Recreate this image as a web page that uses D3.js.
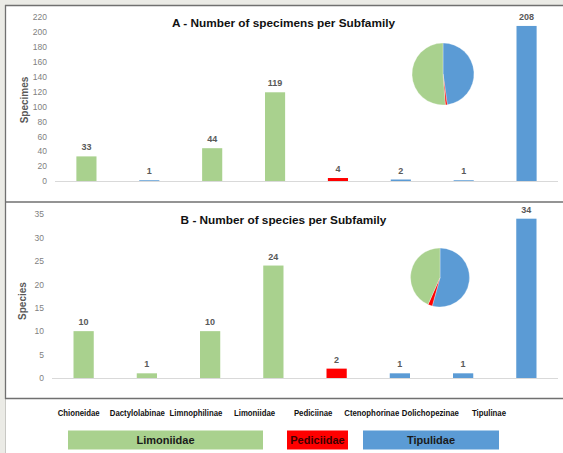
<!DOCTYPE html>
<html>
<head>
<meta charset="utf-8">
<script src="https://cdn.jsdelivr.net/npm/d3@7"></script>
<style>
  body { margin: 0; background: #fff; }
  svg { display: block; font-family: "Liberation Sans", Arial, sans-serif; }
</style>
</head>
<body>
<svg id="chart" width="563" height="453"></svg>
<script>
// 数据
const subfamilies = ["Chioneidae", "Dactylolabinae", "Limnophilinae", "Limoniidae",
  "Pediciinae", "Ctenophorinae", "Dolichopezinae", "Tipulinae"];
const specimens = [33, 1, 44, 119, 4, 2, 1, 208];
const species = [10, 1, 10, 24, 2, 1, 1, 34];
const barFamilyA = ["Limoniidae", "Tipulidae", "Limoniidae", "Limoniidae",
  "Pediciidae", "Tipulidae", "Tipulidae", "Tipulidae"];
const barFamilyB = ["Limoniidae", "Limoniidae", "Limoniidae", "Limoniidae",
  "Pediciidae", "Tipulidae", "Tipulidae", "Tipulidae"];
const families = ["Limoniidae", "Pediciidae", "Tipulidae"];
const familyColors = ["#a9d18e", "#ff0000", "#5b9bd5"];
const ticksA = [0, 20, 40, 60, 80, 100, 120, 140, 160, 180, 200, 220];
const ticksB = [0, 5, 10, 15, 20, 25, 30, 35];
// 饼图（按图中顺序：蓝、红、绿）
const pieSpecimens = [197, 4, 211];
const pieSpecies = [45, 2, 36];
const pieColors = ["#5b9bd5", "#ff0000", "#a9d18e"];

const svg = d3.select("#chart");
const color = d3.scaleOrdinal().domain(families).range(familyColors);

// 外框
svg.append("rect").attr("x", 0).attr("y", 0).attr("width", 563).attr("height", 453).attr("fill", "#fff");
svg.append("rect").attr("x", 0).attr("y", 0).attr("width", 563).attr("height", 5).attr("fill", "#ebebe6");
svg.append("rect").attr("x", 0).attr("y", 0).attr("width", 5).attr("height", 453).attr("fill", "#ebebe6");
svg.append("line").attr("x1", 5.5).attr("x2", 5.5).attr("y1", 399).attr("y2", 453)
  .attr("stroke", "#c8c8c4").attr("stroke-width", 1);
[5.5, 202, 398.5].forEach(y => {
  svg.append("line").attr("x1", 5).attr("x2", 563).attr("y1", y).attr("y2", y)
    .attr("stroke", "#707070").attr("stroke-width", 1.3);
});
svg.append("line").attr("x1", 5.5).attr("x2", 5.5).attr("y1", 5).attr("y2", 399)
  .attr("stroke", "#707070").attr("stroke-width", 1.3);

const panels = [
  { values: specimens, fam: barFamilyA, ticks: ticksA, max: 220, x0: 55, yTop: 17, yBase: 181,
    tickX: 47, label: "Specimes", labelX: 24, labelY: 100,
    title: "A - Number of specimens per Subfamily", titleY: 27,
    pie: pieSpecimens, pieX: 443, pieY: 74, pieR: 31 },
  { values: species, fam: barFamilyB, ticks: ticksB, max: 35, x0: 52, yTop: 214, yBase: 378,
    tickX: 44, label: "Species", labelX: 22, labelY: 301,
    title: "B - Number of species per Subfamily", titleY: 224,
    pie: pieSpecies, pieX: 440, pieY: 277.5, pieR: 29.5 }
];

panels.forEach(p => {
  const x = d3.scaleBand().domain(subfamilies).range([p.x0, 558]).paddingInner(0.68).paddingOuter(0.34);
  const y = d3.scaleLinear().domain([0, p.max]).range([p.yBase, p.yTop]);
  const g = svg.append("g");

  // Y 轴
  const yAxis = g.append("g")
    .attr("transform", `translate(${p.tickX + 3},0)`)
    .call(d3.axisLeft(y).tickValues(p.ticks).tickSize(0).tickPadding(3));
  yAxis.select(".domain").remove();
  yAxis.selectAll("text")
    .attr("fill", "#7f7f7f")
    .style("font-size", "8.5px")
    .style("font-family", "'Liberation Sans', Arial, sans-serif");

  // 基线
  g.append("line")
    .attr("x1", p.x0).attr("x2", 558)
    .attr("y1", y(0) + 0.5).attr("y2", y(0) + 0.5)
    .attr("stroke", "#d9d9d9");

  // 柱子
  g.selectAll("rect.bar")
    .data(p.values)
    .enter()
    .append("rect")
    .attr("class", "bar")
    .attr("x", (d, i) => x(subfamilies[i]))
    .attr("width", x.bandwidth())
    .attr("y", d => y(d))
    .attr("height", d => y(0) - y(d))
    .attr("fill", (d, i) => color(p.fam[i]));

  // 数值标签
  g.selectAll("text.val")
    .data(p.values)
    .enter()
    .append("text")
    .attr("class", "val")
    .attr("x", (d, i) => x(subfamilies[i]) + x.bandwidth() / 2)
    .attr("y", d => y(d) - 6)
    .attr("text-anchor", "middle")
    .attr("fill", "#595959")
    .style("font-size", "9px")
    .style("font-weight", "bold")
    .text(d => d);

  // Y 轴标题
  g.append("text")
    .attr("transform", `translate(${p.labelX},${p.labelY}) rotate(-90)`)
    .attr("text-anchor", "middle")
    .attr("dy", "0.35em")
    .attr("fill", "#595959")
    .style("font-size", "10px")
    .style("font-weight", "bold")
    .text(p.label);

  // 标题
  g.append("text")
    .attr("x", 283.5).attr("y", p.titleY)
    .attr("text-anchor", "middle")
    .attr("fill", "#111")
    .style("font-size", "11.8px")
    .style("font-weight", "bold")
    .text(p.title);

  // 饼图
  const pie = d3.pie().sort(null);
  const arc = d3.arc().innerRadius(0).outerRadius(p.pieR);
  g.append("g")
    .attr("transform", `translate(${p.pieX},${p.pieY})`)
    .selectAll("path")
    .data(pie(p.pie))
    .enter()
    .append("path")
    .attr("d", arc)
    .attr("fill", (d, i) => pieColors[i])
    .attr("stroke", "#fff")
    .attr("stroke-width", 0.3);
});

// 底部类别标签（窄体：横向压缩）
const xc = d3.scaleBand().domain(subfamilies).range([49.4, 518.3]);
svg.selectAll("text.cat")
  .data(subfamilies)
  .enter()
  .append("text")
  .attr("class", "cat")
  .attr("transform", d => `translate(${xc(d) + xc.bandwidth() / 2},415.5) scale(0.83,1)`)
  .attr("text-anchor", "middle")
  .attr("fill", "#111")
  .style("font-family", "'Liberation Sans', Arial, sans-serif")
  .style("font-size", "9.4px")
  .style("font-weight", "bold")
  .text(d => d);

// 图例
const legendBoxes = [[68, 263], [287, 348], [363, 499]];
const legend = svg.selectAll("g.legend")
  .data(families)
  .enter()
  .append("g")
  .attr("class", "legend");
legend.append("rect")
  .attr("x", (d, i) => legendBoxes[i][0])
  .attr("width", (d, i) => legendBoxes[i][1] - legendBoxes[i][0])
  .attr("y", 430.5)
  .attr("height", 19)
  .attr("fill", d => color(d));
legend.append("text")
  .attr("x", (d, i) => (legendBoxes[i][0] + legendBoxes[i][1]) / 2)
  .attr("y", 444)
  .attr("text-anchor", "middle")
  .attr("fill", (d, i) => i === 1 ? "#3a0000" : "#1a1a1a")
  .style("font-size", "11px")
  .style("font-weight", "bold")
  .text(d => d);
</script>
</body>
</html>
